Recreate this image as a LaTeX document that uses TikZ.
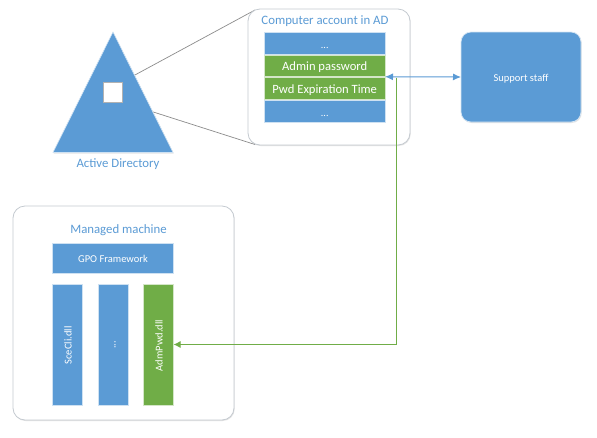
\documentclass[tikz,border=0pt]{standalone}
\usepackage{fontspec}
\setmainfont{Carlito}
\usetikzlibrary{arrows.meta,shadows,calc}
\definecolor{blu}{HTML}{5B9BD5}
\definecolor{grn}{HTML}{70AD47}
\definecolor{edge}{HTML}{C4CAD0}
\newcommand{\lowertext}[2]{\raisebox{-#1pt}[0pt][0pt]{#2}}
\tikzset{
  softshadow/.style={drop shadow={shadow xshift=0.7pt,shadow yshift=-1pt,opacity=0.18,fill=black!60}},
  panel/.style={draw=edge,line width=0.8pt,fill=white,rounded corners=12pt,minimum width=#1,inner sep=0pt,outer sep=0pt},
  blockb/.style={fill=blu,draw=white!70!blu,line width=0.7pt,text=white,inner sep=0pt,outer sep=0pt,font=\fontsize{10.5}{12}\selectfont,softshadow},
  blockg/.style={fill=grn,draw=white!70!grn,line width=0.7pt,text=white,inner sep=0pt,outer sep=0pt,font=\fontsize{10.5}{12}\selectfont,softshadow},
  row/.style={minimum width=120.5pt,minimum height=21.5pt,font=\fontsize{12.6}{14}\selectfont},
  dotsrow/.style={minimum width=120.5pt,minimum height=21.5pt,font=\fontsize{10}{12}\selectfont},
  title/.style={text=blu,inner sep=0pt,font=\fontsize{12.8}{15}\selectfont},
  bar/.style={minimum width=30pt,minimum height=120.5pt},
  bartext/.style={text=white,inner sep=0pt,rotate=90,font=\fontsize{10.5}{12}\selectfont},
  leader/.style={draw=black!45,line width=0.7pt},
}
\begin{document}
\begin{tikzpicture}[x=1pt,y=-1pt]
\useasboundingbox (0,0) rectangle (597,437);
\fill[white] (0,0) rectangle (597,437);
% leaders drawn first (behind panel)
\coordinate (sqTR) at (122,82);
\coordinate (sqBR) at (122,102);
\coordinate (panTL) at (255,10);
\coordinate (panBL) at (255,144.5);
\draw[leader] (sqTR) -- (panTL);
\draw[leader] (sqBR) -- (panBL);
% Computer account panel
\node[panel=162pt,minimum height=136pt,softshadow] (account) at (329,77) {};
\node[title] (accT) at (325,21.5) {Computer account in AD};
\node[blockb,dotsrow] (r1) at (324.75,43.5) {\lowertext{4.5}{...}};
\node[blockg,row] (r2) at (324.75,66) {\lowertext{4}{Admin password}};
\node[blockg,row] (r3) at (324.75,88.5) {\lowertext{4.5}{Pwd Expiration Time}};
\node[blockb,dotsrow] (r4) at (324.75,111.5) {\lowertext{4.5}{...}};
% Support staff
\node[blockb,rounded corners=10pt,minimum width=120pt,minimum height=90pt,draw=white!75!blu] (staff) at (521,77) {\lowertext{4}{Support staff}};
% Triangle
\fill[blu,draw=white!70!blu,line width=0.6pt,softshadow] (113,32) -- (173,152.5) -- (53,152.5) -- cycle;
\node[draw=white!70!black,line width=0.8pt,fill=white,minimum width=18.5pt,minimum height=20pt,inner sep=0pt,outer sep=0pt] (sq) at (112.75,92) {};
\node[title] (adT) at (118,164.5) {Active Directory};
% Managed machine
\node[panel=221pt,minimum height=214pt,softshadow] (managed) at (123.5,313) {};
\node[title] (mmT) at (118.5,230.5) {Managed machine};
\node[blockb,minimum width=121pt,minimum height=29.5pt] (gpo) at (113,258.5) {GPO Framework};
\node[blockb,bar] (b1) at (67.5,344.75) {};
\node[bartext] (b1t) at (68,345.5) {SceCli.dll};
\node[blockb,bar] (b2) at (113,344.75) {};
\node[bartext] (b2t) at (115,344.75) {...};
\node[blockg,bar] (b3) at (158.5,344.75) {};
\node[bartext] (b3t) at (159,345.5) {AdmPwd.dll};
% connectors
\coordinate (junction) at (396.5,77.5);
\draw[grn,line width=1pt,-{Latex[length=7pt,width=7pt]}] (junction) |- (b3.east |- 0,344.5);
\draw[blu,line width=1pt,{Latex[length=8pt,width=7pt]}-{Latex[length=8pt,width=7pt]}] (r2.south east) -- (staff.west);
\end{tikzpicture}
\end{document}
